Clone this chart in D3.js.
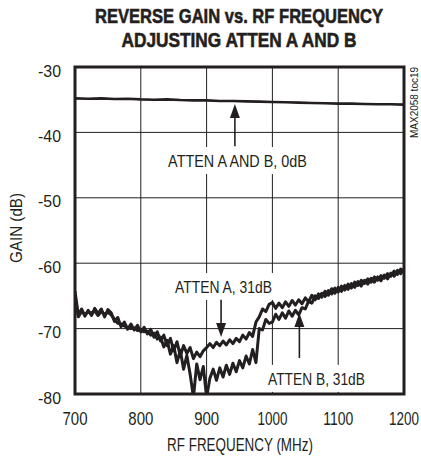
<!DOCTYPE html>
<html><head><meta charset="utf-8">
<script src="https://cdn.jsdelivr.net/npm/d3@7"></script>
<style>
html,body{margin:0;padding:0;background:#fff;}
svg{display:block;}
text{font-family:"Liberation Sans",Arial,sans-serif;fill:#231f20;}
</style></head>
<body>
<script>
// ---- data ----
const titleLines = ["REVERSE GAIN vs. RF FREQUENCY", "ADJUSTING ATTEN A AND B"];
const xTicks = [700, 800, 900, 1000, 1100, 1200];
const yTicks = [-30, -40, -50, -60, -70, -80];
const xLabel = "RF FREQUENCY (MHz)";
const yLabel = "GAIN (dB)";
const sideNote = "MAX2058 toc19";

// 0 dB trace, sampled every 20 MHz from 700
const freq0 = d3.range(700, 1201, 20);
const gain0 = [-34.8,-34.85,-34.8,-34.9,-34.85,-34.95,-35.0,-34.95,-35.05,-35.1,-35.1,-35.2,-35.2,
  -35.25,-35.3,-35.35,-35.4,-35.45,-35.5,-35.55,-35.6,-35.6,-35.65,-35.7,-35.7,-35.75];

// 31 dB traces, sampled every 5 MHz from 700
const freq31 = d3.range(700, 1201, 5);
const gainA = [-64.3,-67.9,-67.0,-68.1,-67.2,-68.0,-66.9,-67.7,-67.0,-68.2,-67.1,-67.6,-68.9,-68.3,-69.7,-69.0,
  -70.1,-69.3,-70.2,-69.5,-70.5,-69.8,-70.8,-70.1,-71.3,-70.5,-71.9,-71.0,-72.6,-71.5,-73.4,-72.0,-74.2,-72.6,
  -73.8,-72.9,-74.6,-73.6,-74.3,-73.4,-72.9,-72.3,-72.9,-72.1,-72.6,-71.9,-72.5,-71.7,-72.3,-71.5,-72.0,-71.0,
  -71.6,-70.6,-71.2,-69.0,-68.2,-67.0,-67.4,-66.3,-66.0,-66.9,-66.1,-66.8,-65.9,-66.6,-65.7,-66.4,-65.6,-66.2,
  -65.3,-65.9,-64.9,-65.6,-64.7,-65.2,-64.3,-64.9,-63.9,-64.6,-63.7,-64.3,-63.4,-64.0,-63.1,-63.7,-62.8,-63.5,
  -62.6,-63.2,-62.3,-62.9,-62.1,-62.7,-61.8,-62.4,-61.5,-62.0,-61.1,-61.6,-60.9];
const gainB = [-65.2,-68.2,-67.4,-67.8,-67.5,-67.6,-67.3,-68.0,-67.4,-67.8,-67.5,-67.9,-68.6,-69.2,-69.3,-69.6,
  -69.8,-70.0,-69.9,-70.3,-70.2,-70.5,-70.4,-71.0,-70.7,-71.6,-71.3,-72.8,-71.8,-73.9,-72.6,-75.2,-73.3,-76.2,
  -74.1,-77.0,-80.5,-75.4,-77.8,-75.8,-80.5,-77.6,-76.2,-77.9,-76.0,-77.4,-75.6,-77.0,-75.3,-76.6,-74.9,-76.0,
  -74.2,-75.4,-73.2,-75.2,-70.0,-70.2,-68.6,-69.2,-69.0,-67.8,-68.6,-67.6,-68.4,-67.3,-68.1,-67.2,-67.9,-66.8,
  -67.0,-65.8,-66.1,-65.0,-65.4,-64.6,-65.1,-64.2,-64.7,-63.8,-64.4,-63.5,-64.1,-63.2,-63.8,-62.9,-63.4,-62.6,
  -63.1,-62.4,-62.9,-62.1,-62.6,-61.9,-62.3,-61.6,-62.0,-61.2,-61.7,-60.9,-61.2];

// annotations (data units)
const labels = [
  {text:"ATTEN A AND B, 0dB", f:947, g:-45.3, w:139},
  {text:"ATTEN A, 31dB", f:925.7, g:-64.55, w:97},
  {text:"ATTEN B, 31dB", f:1067, g:-78.6, w:97}
];
const arrows = [
  {f:943, from:-42.1, to:-35.66},
  {f:922, from:-65.6, to:-71.28},
  {f:1041, from:-74.5, to:-67.6}
];

// ---- chart ----
const W = 421, H = 458;
const m = {left:75, right:17, top:67, bottom:64};
const iw = W - m.left - m.right, ih = H - m.top - m.bottom;
const svg = d3.select("body").append("svg").attr("width", W).attr("height", H);

const x = d3.scaleLinear().domain([700, 1200]).range([m.left, m.left + iw]);
const y = d3.scaleLinear().domain([-80, -30]).range([m.top + ih, m.top]);

svg.append("defs").append("clipPath").attr("id","clip")
  .append("rect").attr("x", m.left).attr("y", m.top).attr("width", iw).attr("height", ih);

// place a text at (px,py), squeezed horizontally to width w, optional rotation
function put(parent, str, px, py, w, size, anchor, rot, bold){
  const t = parent.append("text").attr("text-anchor", anchor).style("font-size", size + "px").text(str);
  if (bold) t.style("font-weight","bold").attr("stroke","#231f20").attr("stroke-width",0.6);
  const nat = t.node().getComputedTextLength();
  const sx = w / nat;
  t.attr("transform", `translate(${px},${py})` + (rot ? ` rotate(${rot})` : "") + ` scale(${sx},1)`);
  return t;
}

// title
const titleW = [288, 235];
const tg = svg.append("g");
titleLines.forEach((s,i) => put(tg, s, 239, 23 + i*24, titleW[i], 21, "middle", 0, true));

// grid
const grid = svg.append("g").attr("stroke","#231f20").attr("stroke-width",1);
grid.selectAll(".vx").data(xTicks.slice(1,-1)).join("line")
  .attr("x1", d => x(d)).attr("x2", d => x(d)).attr("y1", m.top).attr("y2", m.top + ih);
grid.selectAll(".hy").data(yTicks.slice(1,-1)).join("line")
  .attr("y1", d => y(d)).attr("y2", d => y(d)).attr("x1", m.left).attr("x2", m.left + iw);

// traces
const line = d3.line().x(d => x(d[0])).y(d => y(d[1]));
const plot = svg.append("g").attr("clip-path","url(#clip)").attr("fill","none")
  .attr("stroke","#231f20").attr("stroke-linejoin","round");
plot.append("path").datum(d3.zip(freq0, gain0)).attr("d", line).attr("stroke-width", 2.6);
plot.append("path").datum(d3.zip(freq31, gainB)).attr("d", line).attr("stroke-width", 3);
plot.append("path").datum(d3.zip(freq31, gainA)).attr("d", line).attr("stroke-width", 3);

// annotation labels with white backgrounds (hide grid behind text)
const lg = svg.append("g");
labels.forEach(d => {
  const cx = x(d.f), by = y(d.g);
  lg.append("rect").attr("x", cx - d.w/2 - 3).attr("y", by - 20)
    .attr("width", d.w + 6).attr("height", 27).attr("fill","#fff");
  put(lg, d.text, cx, by, d.w, 16.5, "middle", 0, false);
});

// arrows
const ag = svg.append("g");
arrows.forEach(a => {
  const dir = Math.sign(y(a.to) - y(a.from));
  const tipY = y(a.to), headY = tipY - dir*14;
  ag.append("line").attr("x1", x(a.f)).attr("x2", x(a.f))
    .attr("y1", y(a.from)).attr("y2", headY).attr("stroke","#231f20").attr("stroke-width",1.6);
  ag.append("path")
    .attr("d", d3.line()([[x(a.f), tipY],[x(a.f)-5, headY],[x(a.f)+5, headY]]) + "Z")
    .attr("fill","#231f20");
});

// frame
svg.append("rect").attr("x", m.left).attr("y", m.top).attr("width", iw).attr("height", ih)
  .attr("fill","none").attr("stroke","#231f20").attr("stroke-width",3);

// axes labels
const axg = svg.append("g");
xTicks.forEach(d => put(axg, String(d), x(d), m.top + ih + 31, String(d).length > 3 ? 30 : 25, 17.5, "middle", 0, false));
yTicks.forEach(d => put(axg, String(d), m.left - 14, y(d) + 9.5, 23, 17, "end", 0, false));

put(axg, xLabel, 240, 451, 146, 17.5, "middle", 0, false);
put(axg, yLabel, 22, 228, 70, 16.5, "middle", -90, false);
put(axg, sideNote, 418, m.top, 71, 10.5, "end", -90, false);
</script>
</body></html>
